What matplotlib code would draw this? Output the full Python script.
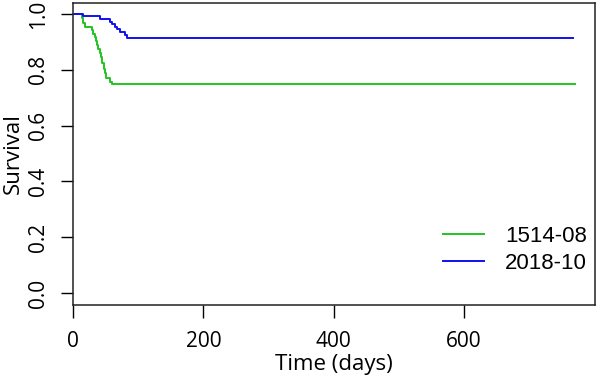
import matplotlib
matplotlib.use("Agg")
import matplotlib.pyplot as plt

# Kaplan-Meier step data (time in days, survival after each time)
green_label = "1514-08"
green_time = [0, 14, 16, 19, 29, 31, 33, 35, 37, 39, 41, 43, 45, 47, 49, 50, 57, 60, 771]
green_surv = [1.0, 0.988, 0.970, 0.955, 0.943, 0.930, 0.918, 0.905, 0.890, 0.875,
              0.860, 0.845, 0.825, 0.805, 0.790, 0.770, 0.758, 0.748, 0.748]

blue_label = "2018-10"
blue_time = [0, 15, 41, 57, 60, 64, 67, 72, 80, 83, 767]
blue_surv = [1.0, 0.993, 0.982, 0.972, 0.965, 0.955, 0.945, 0.935, 0.925, 0.914, 0.914]

x_ticks = [0, 200, 400, 600]
y_ticks = [0.0, 0.2, 0.4, 0.6, 0.8, 1.0]
y_ticklabels = ["0.0", "0.2", "0.4", "0.6", "0.8", "1.0"]

W, H = 597, 390
fig = plt.figure(figsize=(W / 100, H / 100), dpi=100)
ax = fig.add_axes([73 / W, 1 - 305 / H, (595 - 73) / W, (305 - 3) / H])

ax.step(green_time, green_surv, where="post", color="#22c422", lw=1.4, label=green_label)
ax.step(blue_time, blue_surv, where="post", color="#1010f0", lw=1.4, label=blue_label)

ax.set_xlim(0, 801)
ax.set_ylim(-0.043, 1.04)
ax.set_xticks(x_ticks)
ax.set_yticks(y_ticks)
ax.set_yticklabels(y_ticklabels, rotation=90, va="center")

for lab in ax.get_xticklabels() + ax.get_yticklabels():
    lab.set_fontfamily("Open Sans")
    lab.set_fontsize(15)
ax.tick_params(axis="both", direction="out", length=9, width=1, color="black")
ax.tick_params(axis="x", pad=10)
ax.tick_params(axis="y", pad=8)
for s in ax.spines.values():
    s.set_linewidth(1.1)
    s.set_color("#222222")

ax.set_xlabel("Time (days)", fontfamily="Open Sans", fontsize=16, labelpad=1)
ax.set_ylabel("Survival", fontfamily="Open Sans", fontsize=16, labelpad=3)

leg = ax.legend(loc="upper left", bbox_to_anchor=(443 / W, 1 - 226 / H),
                bbox_transform=fig.transFigure, frameon=False,
                prop=dict(family="Liberation Sans", size=16),
                handlelength=1.85, handletextpad=0.95, labelspacing=0.25,
                borderpad=0, borderaxespad=0)

fig.savefig("out.png", dpi=100)
